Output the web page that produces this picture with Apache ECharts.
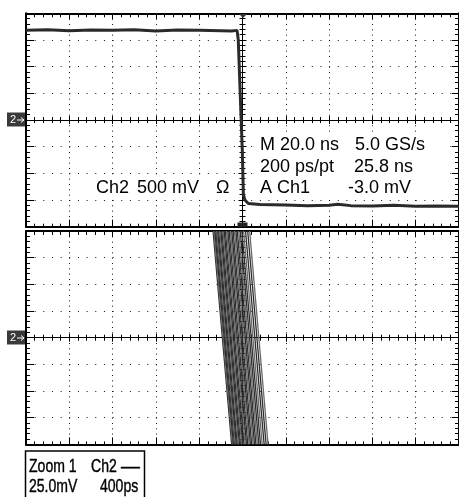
<!DOCTYPE html>
<html><head><meta charset="utf-8">
<script src="https://cdn.jsdelivr.net/npm/echarts@6/dist/echarts.min.js"></script>
<style>html,body{margin:0;padding:0;background:#fff}#c{width:459px;height:497px}</style>
</head><body><div id="c"></div>
<script>
// ---- Data ----
// Main window: time in ns (20 ns/div), Ch2 in mV (500 mV/div)
const mainTimeNs = [-100, -90, -80, -70, -60, -50, -40, -30, -20, -10, -5, -2.5, -1.95, -1.0, -0.1, 0.4, 1.1, 2.7, 8, 20, 30, 40, 44, 50, 60, 70, 80, 90, 100];
const mainCh2Mv  = [1680, 1690, 1675, 1685, 1680, 1690, 1670, 1685, 1680, 1675, 1670, 1680, 1500, 430, -560, -1400, -1500, -1565, -1585, -1595, -1605, -1600, -1580, -1605, -1610, -1600, -1615, -1610, -1615];
// Zoom 1 window: overlaid edges, time in ps (400 ps/div), mV (25 mV/div)
const zoomEdgeTopPs    = [-272, -264, -255, -246, -238, -229, -220, -210, -200, -190, -180, -169, -158, -147, -135, -123, -111, -99, -87, -74, -61, -48, -35, -21, -6, 10, 28, 48, 66];
const zoomEdgeBottomPs = [-100, -92, -84, -74, -66, -57, -48, -38, -28, -18, -8, 3, 14, 25, 37, 49, 61, 73, 85, 98, 111, 124, 137, 151, 166, 182, 200, 218, 236];
const zoomEdgeMv = [100, -100];
// Readouts
const readoutLeft  = ['M 20.0 ns', '200 ps/pt', 'A Ch1'];
const readoutRight = ['5.0 GS/s', '25.8 ns', '-3.0 mV'];
const chLabel = ['Ch2', '500 mV', 'Ω'];
const zoomBox = [['Zoom 1', 'Ch2', '—'], ['25.0mV', '400ps']];

// ---- Layout ----
const G = [
  {left: 26, top: 13.3, width: 433, height: 213.4},
  {left: 26, top: 231, width: 433, height: 213.4}
];
const ranges = [
  {x: [-100, 100, 20], y: [-2000, 2000, 500]},
  {x: [-2000, 2000, 400], y: [-100, 100, 25]}
];
const K = '#000';
function tick(inside, len, mlen, show) {
  return {
    axisTick: {show: show !== false, inside: inside, length: len, lineStyle: {color: K, width: 1}},
    minorTick: {show: show !== false, splitNumber: 5, length: mlen, lineStyle: {color: K, width: 1}}
  };
}
const xAxes = [], yAxes = [];
G.forEach((g, gi) => {
  const r = ranges[gi];
  const xBase = gi * 4, yBase = gi * 4;
  const bx = {type: 'value', gridIndex: gi, min: r.x[0], max: r.x[1], interval: r.x[2], axisLabel: {show: false}, splitLine: {show: false}, axisPointer: {show: false}};
  const by = {type: 'value', gridIndex: gi, min: r.y[0], max: r.y[1], interval: r.y[2], axisLabel: {show: false}, splitLine: {show: false}, axisPointer: {show: false}};
  xAxes.push(Object.assign({}, bx, tick(true, 6, 4), {position: 'top', axisLine: {onZero: false, lineStyle: {color: K, width: 2}},
    splitLine: {show: true, lineStyle: {color: '#111', width: 1, type: [1, 4.333]}}}));
  xAxes.push(Object.assign({}, bx, tick(true, 7, 3), {position: 'bottom', axisLine: {onZero: false, lineStyle: {color: K, width: 2}}}));
  xAxes.push(Object.assign({}, bx, tick(true, 4, 3), {position: 'bottom', axisLine: {onZero: true, onZeroAxisIndex: yBase, lineStyle: {color: K, width: 1}}}));
  xAxes.push(Object.assign({}, bx, tick(false, 4, 3), {position: 'bottom', axisLine: {show: false, onZero: true, onZeroAxisIndex: yBase}}));
  yAxes.push(Object.assign({}, by, tick(true, 8, 4), {position: 'left', axisLine: {onZero: false, lineStyle: {color: K, width: 2}},
    splitLine: {show: true, lineStyle: {color: '#111', width: 1, type: [1, 7.66]}}}));
  yAxes.push(Object.assign({}, by, tick(true, 7, 4), {position: 'right', axisLine: {onZero: false, lineStyle: {color: K, width: 2}}}));
  yAxes.push(Object.assign({}, by, tick(false, 4, 3), {position: 'left', axisLine: {onZero: true, onZeroAxisIndex: xBase, lineStyle: {color: K, width: 1}}}));
  yAxes.push(Object.assign({}, by, tick(true, 4, 3), {position: 'left', axisLine: {show: false, onZero: true, onZeroAxisIndex: xBase}}));
});

const series = [{
  type: 'line', xAxisIndex: 0, yAxisIndex: 0, silent: true, symbol: 'none', z: 3,
  lineStyle: {color: '#2a2a2a', width: 3},
  data: mainTimeNs.map((t, i) => [t, mainCh2Mv[i]])
}];
zoomEdgeTopPs.forEach((tp, i) => {
  series.push({
    type: 'line', xAxisIndex: 4, yAxisIndex: 4, silent: true, symbol: 'none', z: 3,
    lineStyle: {color: i % 3 === 1 ? '#6a6a6a' : '#2e2e2e', width: 1.3},
    data: [[tp, zoomEdgeMv[0]], [zoomEdgeBottomPs[i], zoomEdgeMv[1]]]
  });
});

const FONT = "'Liberation Sans', Arial, sans-serif";
function txt(s, x, y, size, fam, extra) {
  return Object.assign({type: 'text', x: x, y: y, z: 10, silent: true,
    style: {text: s, fill: '#000', font: size + 'px ' + fam, verticalAlign: 'middle', align: 'left'}}, extra || {});
}
function narrow(s, x, y, sx) {
  return {type: 'text', x: x, y: y, z: 12, silent: true, scaleX: sx || 0.78,
    style: {text: s, fill: '#000', font: '18px ' + FONT, verticalAlign: 'middle', align: 'left', stroke: '#000', lineWidth: 0.4}};
}
function marker(y) {
  return [
    {type: 'rect', z: 10, silent: true, shape: {x: 7, y: y - 7.5, width: 18, height: 14}, style: {fill: '#3a3a3a'}},
    {type: 'text', x: 10, y: y, z: 11, silent: true, style: {text: '2', fill: '#fff', font: '11px ' + FONT, verticalAlign: 'middle'}},
    {type: 'polyline', z: 11, silent: true, shape: {points: [[17, y], [24, y]]}, style: {stroke: '#fff', lineWidth: 1}},
    {type: 'polyline', z: 11, silent: true, shape: {points: [[21, y - 2.5], [24, y], [21, y + 2.5]]}, style: {stroke: '#fff', fill: null, lineWidth: 1}}
  ];
}
const graphic = [
  {type: 'rect', z: 1, silent: true, shape: {x: 258, y: 133, width: 190, height: 65}, style: {fill: '#fff'}},
  {type: 'rect', z: 1, silent: true, shape: {x: 95, y: 178, width: 141, height: 20}, style: {fill: '#fff'}},
  txt(readoutLeft[0], 260, 145, 18, FONT), txt(readoutRight[0], 355, 145, 18, FONT),
  txt(readoutLeft[1], 260, 167, 18, FONT), txt(readoutRight[1], 354, 167, 18, FONT),
  txt(readoutLeft[2], 260, 188, 18, FONT), txt(readoutRight[2], 348, 188, 18, FONT),
  txt(chLabel[0], 96, 188, 18, FONT), txt(chLabel[1], 137, 188, 18, FONT), txt(chLabel[2], 216, 188, 18, FONT),
  {type: 'polygon', z: 10, silent: true, shape: {points: [[239, 14], [247, 14], [243, 18]]}, style: {fill: '#333'}},
  {type: 'rect', z: 10, silent: true, shape: {x: 237.5, y: 222.5, width: 10, height: 4.5}, style: {fill: '#222'}},
  {type: 'rect', z: 10, silent: true, shape: {x: 25.5, y: 451, width: 119, height: 60}, style: {fill: '#fff', stroke: '#000', lineWidth: 1.5}},
  narrow(zoomBox[0][0], 29, 467), narrow(zoomBox[0][1], 91, 467), narrow(zoomBox[0][2], 121, 467, 1.05),
  narrow(zoomBox[1][0], 29, 487), narrow(zoomBox[1][1], 100, 487)
].concat(marker(120), marker(338));

const chart = echarts.init(document.getElementById('c'), null, {renderer: 'canvas'});
chart.setOption({
  animation: false,
  backgroundColor: '#fff',
  grid: G,
  xAxis: xAxes,
  yAxis: yAxes,
  series: series,
  graphic: graphic
});
</script>
</body></html>
